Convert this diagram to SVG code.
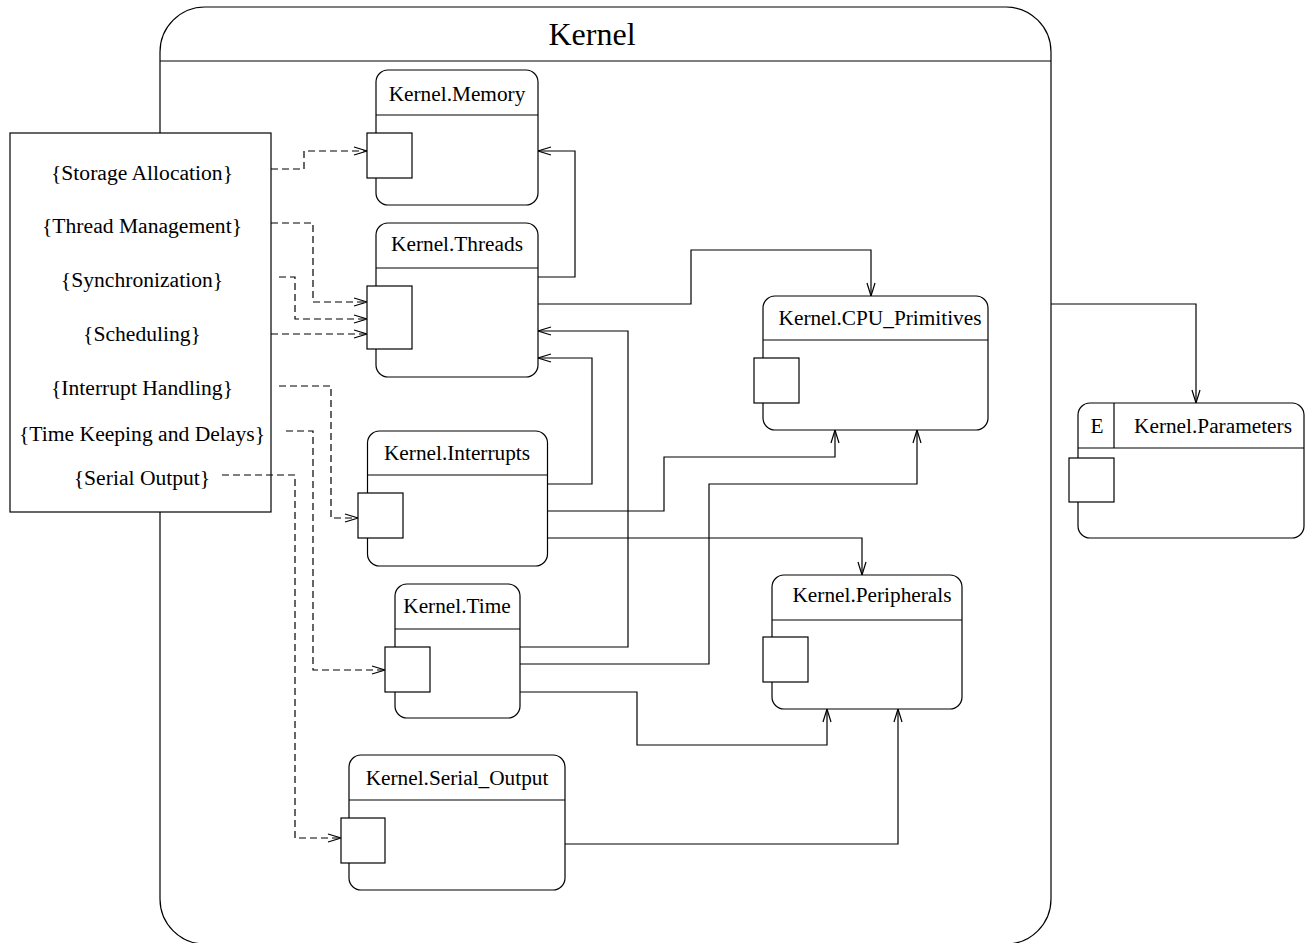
<svg xmlns="http://www.w3.org/2000/svg" width="1314" height="943" viewBox="0 0 1314 943">
  <style>
    text { font-family: "Liberation Serif", "Times New Roman", serif; fill: #000; }
    .title { font-size: 32px; text-anchor: middle; }
    .lbl { font-size: 21.3px; text-anchor: middle; }
    .req { font-size: 21.6px; text-anchor: middle; }
    .box { fill: #fff; stroke: #000; stroke-width: 1.2; }
    .sep { fill: none; stroke: #000; stroke-width: 1.2; }
    .port { fill: #fff; stroke: #000; stroke-width: 1.2; }
    .dep { fill: none; stroke: #000; stroke-width: 1.2; marker-end: url(#open); }
    .req-link { fill: none; stroke: #000; stroke-width: 1.2; stroke-dasharray: 7 4; marker-end: url(#open); }
  </style>
  <defs>
    <marker id="open" markerUnits="userSpaceOnUse" markerWidth="16" markerHeight="12" viewBox="-14 -6 16 12" refX="0" refY="0" orient="auto" overflow="visible">
      <path d="M-13,-4 L0,0 L-13,4" fill="none" stroke="#000" stroke-width="1.2"/>
    </marker>
  </defs>

  <rect width="1314" height="943" fill="#fff"/>

  <!-- enclosing package -->
  <g id="kernel">
    <rect class="box" x="160" y="7" width="891" height="937" rx="45" ry="45"/>
    <line class="sep" x1="160" y1="61" x2="1051" y2="61"/>
    <text class="title" x="592" y="45">Kernel</text>
  </g>

  <!-- requirement list -->
  <g id="requirements">
    <rect class="box" x="10" y="133" width="261" height="379"/>
    <text class="req" x="142" y="180">{Storage Allocation}</text>
    <text class="req" x="142" y="233">{Thread Management}</text>
    <text class="req" x="142" y="287">{Synchronization}</text>
    <text class="req" x="142" y="341">{Scheduling}</text>
    <text class="req" x="142" y="395">{Interrupt Handling}</text>
    <text class="req" x="142" y="441">{Time Keeping and Delays}</text>
    <text class="req" x="142" y="485">{Serial Output}</text>
  </g>

  <!-- connectors -->
  <g id="connectors">
    <path class="req-link" d="M271,169 H304 V151 H367"/>
    <path class="req-link" d="M271,223 H313 V302 H367"/>
    <path class="req-link" d="M279,277 H295 V319 H367"/>
    <path class="req-link" d="M271,334 H367"/>
    <path class="req-link" d="M279,386 H331 V518 H358"/>
    <path class="req-link" d="M286,431 H313 V670 H385"/>
    <path class="req-link" d="M222,475 H295 V838 H341"/>

    <path class="dep" d="M538,277 H575 V151 H538"/>
    <path class="dep" d="M538,304 H691 V250 H871 V296"/>
    <path class="dep" d="M547,484 H592 V358 H538"/>
    <path class="dep" d="M520,647 H628 V331 H538"/>
    <path class="dep" d="M547,511 H664 V457 H835 V430"/>
    <path class="dep" d="M520,664 H709 V484 H917 V430"/>
    <path class="dep" d="M547,538 H862 V575"/>
    <path class="dep" d="M520,692 H637 V745 H827 V709"/>
    <path class="dep" d="M565,844 H898 V709"/>
    <path class="dep" d="M1051,304 H1196 V403"/>
  </g>

  <g id="memory">
    <rect class="box" x="376" y="70" width="162" height="135" rx="12" ry="12"/>
    <line class="sep" x1="376" y1="115" x2="538" y2="115"/>
    <text class="lbl" x="457" y="101">Kernel.Memory</text>
    <rect class="port" x="367" y="133" width="45" height="45"/>
  </g>

  <g id="threads">
    <rect class="box" x="376" y="223" width="162" height="154" rx="12" ry="12"/>
    <line class="sep" x1="376" y1="268" x2="538" y2="268"/>
    <text class="lbl" x="457" y="251">Kernel.Threads</text>
    <rect class="port" x="367" y="286" width="45" height="63"/>
  </g>

  <g id="interrupts">
    <rect class="box" x="367.5" y="431" width="180" height="135" rx="12" ry="12"/>
    <line class="sep" x1="367.5" y1="475" x2="547.5" y2="475"/>
    <text class="lbl" x="457" y="460">Kernel.Interrupts</text>
    <rect class="port" x="358" y="493" width="45" height="45"/>
  </g>

  <g id="time">
    <rect class="box" x="395" y="584" width="125" height="134" rx="12" ry="12"/>
    <line class="sep" x1="395" y1="629" x2="520" y2="629"/>
    <text class="lbl" x="457" y="613">Kernel.Time</text>
    <rect class="port" x="385" y="647" width="45" height="45"/>
  </g>

  <g id="cpu-primitives">
    <rect class="box" x="763" y="296" width="225" height="134" rx="12" ry="12"/>
    <line class="sep" x1="763" y1="340" x2="988" y2="340"/>
    <text class="lbl" x="880" y="325">Kernel.CPU_Primitives</text>
    <rect class="port" x="754" y="358" width="45" height="45"/>
  </g>

  <g id="peripherals">
    <rect class="box" x="772" y="575" width="190" height="134" rx="12" ry="12"/>
    <line class="sep" x1="772" y1="620" x2="962" y2="620"/>
    <text class="lbl" x="872" y="602">Kernel.Peripherals</text>
    <rect class="port" x="763" y="637" width="45" height="45"/>
  </g>

  <g id="serial-output">
    <rect class="box" x="349" y="755" width="216" height="135" rx="12" ry="12"/>
    <line class="sep" x1="349" y1="800" x2="565" y2="800"/>
    <text class="lbl" x="457" y="785">Kernel.Serial_Output</text>
    <rect class="port" x="341" y="818" width="44" height="45"/>
  </g>

  <g id="parameters">
    <rect class="box" x="1078" y="403" width="226" height="135" rx="12" ry="12"/>
    <line class="sep" x1="1078" y1="448" x2="1304" y2="448"/>
    <line class="sep" x1="1114" y1="403" x2="1114" y2="448"/>
    <text class="lbl" x="1097" y="433">E</text>
    <text class="lbl" x="1213" y="433">Kernel.Parameters</text>
    <rect class="port" x="1069" y="458" width="45" height="44"/>
  </g>
</svg>
